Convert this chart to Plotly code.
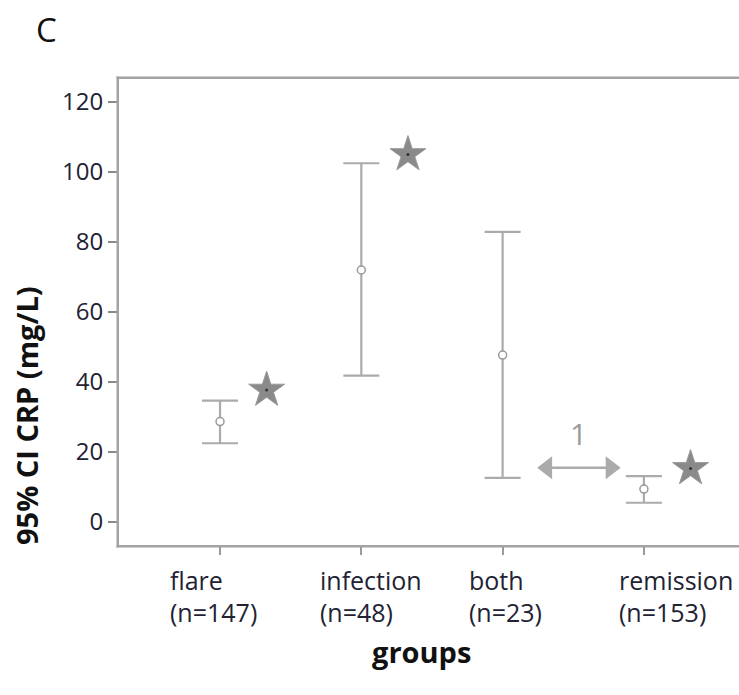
import plotly.graph_objects as go

groups = ["flare", "infection", "both", "remission"]
n_counts = [147, 48, 23, 153]
means = [28.7, 72.0, 47.7, 9.4]
lower = [22.5, 41.8, 12.6, 5.5]
upper = [34.7, 102.5, 82.9, 13.1]
star_values = [37.7, 105.0, None, 15.3]
y_ticks = [0, 20, 40, 60, 80, 100, 120]
arrow_y = 15.5
arrow_label = "1"

x = list(range(len(groups)))
FONT = "Open Sans"
GRAY = "#ababab"
FRAME = "#a3a3a3"
TXT = "#222233"

W, H = 739, 695
L, R, T, B = 119, 0, 79, 150
pw, ph = W - L - R, H - T - B


def px_to_paper(px, py):
    return (px - L) / pw, (H - B - py) / ph


fig = go.Figure()

# Error bars with mean markers
fig.add_trace(go.Scatter(
    x=x, y=means, mode="markers",
    marker=dict(symbol="circle", size=8, color="white",
                line=dict(color="#999999", width=1.5)),
    error_y=dict(type="data", symmetric=False,
                 array=[u - m for u, m in zip(upper, means)],
                 arrayminus=[m - l for m, l in zip(means, lower)],
                 color=GRAY, thickness=2.2, width=18),
    showlegend=False, hoverinfo="skip"))

# Stars
sx = [xi + 0.33 for xi, s in zip(x, star_values) if s is not None]
sy = [s for s in star_values if s is not None]
fig.add_trace(go.Scatter(
    x=sx, y=sy, mode="markers",
    marker=dict(symbol="star", size=27, color="#8a8a8a",
                line=dict(color="#999999", width=1)),
    showlegend=False, hoverinfo="skip"))
fig.add_trace(go.Scatter(
    x=sx, y=sy, mode="markers",
    marker=dict(symbol="circle", size=3, color="#333333"),
    showlegend=False, hoverinfo="skip"))

# Double arrow between "both" and "remission"
a0, a1 = 2.24, 2.84
fig.add_trace(go.Scatter(
    x=[a0 + 0.05, a1 - 0.05], y=[arrow_y, arrow_y], mode="lines",
    line=dict(color=GRAY, width=2.5),
    showlegend=False, hoverinfo="skip"))
fig.add_trace(go.Scatter(
    x=[a0 + 0.075, a1 - 0.075], y=[arrow_y, arrow_y], mode="markers",
    marker=dict(symbol=["triangle-left", "triangle-right"], size=20, color=GRAY),
    showlegend=False, hoverinfo="skip"))
fig.add_annotation(x=(a0 + a1) / 2, y=arrow_y + 9.9, text=arrow_label,
                   showarrow=False, font=dict(family=FONT, size=30, color="#9a9a9a"))

# Category labels (two lines, left aligned)
left_offsets = [-0.368, -0.306, -0.252, -0.19]
_, l1 = px_to_paper(0, 580)
_, l2 = px_to_paper(0, 612)
for xi, g, n, off in zip(x, groups, n_counts, left_offsets):
    fig.add_annotation(x=xi + off, y=l1, xref="x", yref="paper",
                       text=g, showarrow=False, xanchor="left", yanchor="middle",
                       font=dict(family=FONT, size=25, color=TXT))
    fig.add_annotation(x=xi + off, y=l2, xref="x", yref="paper",
                       text=f"(n={n})", showarrow=False, xanchor="left", yanchor="middle",
                       font=dict(family=FONT, size=25, color=TXT))

# Axis titles and panel letter
gx, gy = px_to_paper(421, 651)
fig.add_annotation(x=gx, y=gy, xref="paper", yref="paper", text="<b>groups</b>",
                   xanchor="center", yanchor="middle",
                   showarrow=False, font=dict(family=FONT, size=29, color="#111111"))
yx, yy = px_to_paper(26, 416)
fig.add_annotation(text="<b>95% CI CRP (mg/L)</b>", textangle=-90, showarrow=False,
                   xref="paper", yref="paper", x=yx, y=yy, xanchor="center", yanchor="middle",
                   font=dict(family=FONT, size=29, color="#111111"))
cx, cy = px_to_paper(46, 30)
fig.add_annotation(text="C", showarrow=False, xref="paper", yref="paper", x=cx, y=cy,
                   xanchor="center", yanchor="middle",
                   font=dict(family=FONT, size=33, color="#111111"))

# open frame: left, bottom, top (the reference has no right border)
dx, dy = 1.25 / pw, 1.25 / ph
for x0, y0, x1, y1 in [(-dx, -2 * dy, -dx, 1 + 2 * dy),
                       (-2 * dx, -dy, 1, -dy),
                       (-2 * dx, 1 + dy, 1, 1 + dy)]:
    fig.add_shape(type="line", xref="paper", yref="paper", x0=x0, y0=y0, x1=x1, y1=y1,
                  layer="above", line=dict(color=FRAME, width=2.5))

fig.update_layout(
    width=W, height=H,
    margin=dict(l=L, r=R, t=T, b=B),
    paper_bgcolor="white", plot_bgcolor="white",
    font=dict(family=FONT, color=TXT),
    xaxis=dict(range=[-0.715, 3.673], showgrid=False, zeroline=False,
               showline=False, ticks="outside", ticklen=9, tickwidth=2,
               tickcolor="#9a9a9a", tickvals=x, showticklabels=False),
    yaxis=dict(range=[-6.57, 126.57], showgrid=False, zeroline=False,
               showline=False, ticks="outside", ticklen=10, tickwidth=2,
               tickcolor="#8a8a8a", tickvals=y_ticks,
               ticktext=[str(v) for v in y_ticks],
               tickfont=dict(family=FONT, size=24, color=TXT)),
)

fig.write_html("out.html")
